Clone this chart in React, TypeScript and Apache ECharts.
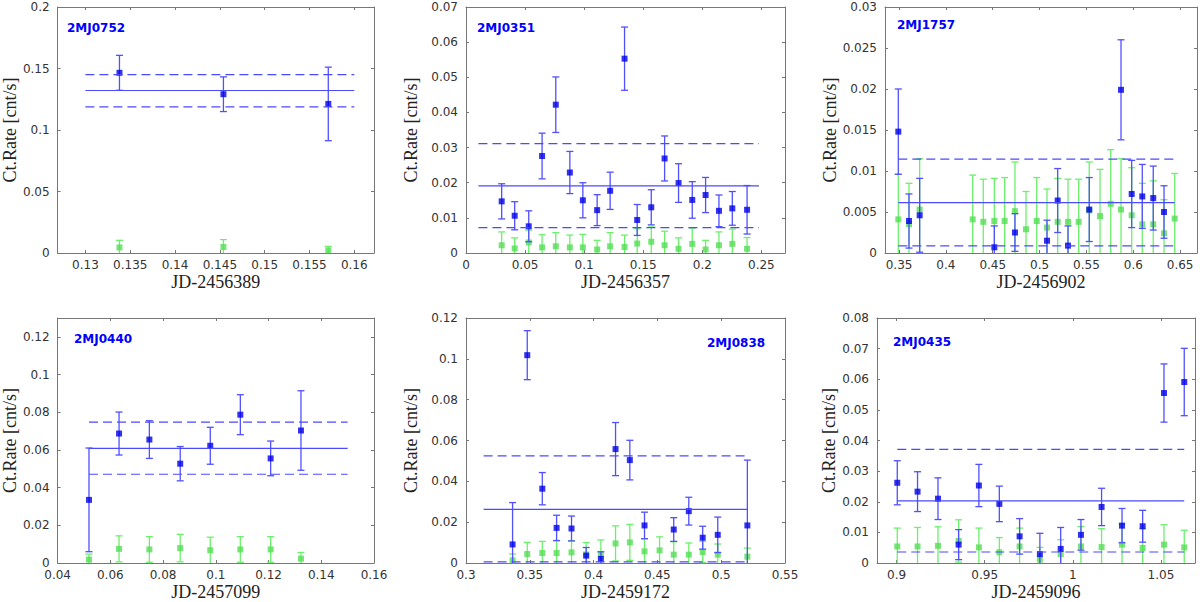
import { useEffect, useRef } from "react";
import * as echarts from "echarts";

// 2MJ0752 (JD-2456389)
const jd0752 = [0.1338, 0.1454, 0.1571];
const rate0752 = [0.1465, 0.1291, 0.1212];
const err0752 = [0.0142, 0.0141, 0.0299];
const bg0752 = [0.0045, 0.0049, 0.0022];
const bgErr0752 = [0.0058, 0.006, 0.0032];
const fit0752 = [0.1321, 0.1451, 0.1188];
const span0752 = [0.13, 0.16];

// 2MJ0351 (JD-2456357)
const jd0351 = [0.0302, 0.0412, 0.0531, 0.0644, 0.076, 0.0879, 0.0989, 0.111, 0.122, 0.1342, 0.1449, 0.1568, 0.1681, 0.1799, 0.1915, 0.2028, 0.2141, 0.2254, 0.2379];
const rate0351 = [0.0147, 0.0106, 0.0076, 0.0276, 0.0422, 0.0229, 0.015, 0.0122, 0.0177, 0.0553, 0.0094, 0.013, 0.0269, 0.0199, 0.0151, 0.0165, 0.012, 0.0127, 0.0123];
const err0351 = [0.005, 0.004, 0.0044, 0.0065, 0.0079, 0.006, 0.005, 0.0044, 0.0053, 0.009, 0.0044, 0.005, 0.0064, 0.0055, 0.0052, 0.005, 0.0045, 0.0048, 0.0069];
const bg0351 = [0.0022, 0.0013, 0.003, 0.0016, 0.0019, 0.0016, 0.0016, 0.001, 0.0019, 0.0017, 0.0027, 0.0032, 0.0022, 0.0012, 0.0026, 0.001, 0.0022, 0.0026, 0.0012];
const bgErr0351 = [0.0038, 0.003, 0.0035, 0.0036, 0.0039, 0.0035, 0.0037, 0.0026, 0.0039, 0.0034, 0.0042, 0.0042, 0.004, 0.0031, 0.0045, 0.0026, 0.0038, 0.0042, 0.0032];
const fit0351 = [0.0191, 0.0311, 0.0072];
const span0351 = [0.0105, 0.248];

// 2MJ1757 (JD-2456902)
const jd1757 = [0.3492, 0.3606, 0.372, 0.4517, 0.4737, 0.5079, 0.5193, 0.5303, 0.553, 0.5869, 0.5983, 0.6096, 0.6213, 0.6328];
const rate1757 = [0.0148, 0.0039, 0.0046, 0.0007, 0.0025, 0.0015, 0.0064, 0.0009, 0.0053, 0.0199, 0.0072, 0.0069, 0.0067, 0.005];
const err1757 = [0.0052, 0.0033, 0.0045, 0.0026, 0.0023, 0.0025, 0.0039, 0.0024, 0.0039, 0.0061, 0.0041, 0.0039, 0.0039, 0.0032];
const bgJd1757 = [0.3492, 0.3606, 0.372, 0.4286, 0.4399, 0.4517, 0.4627, 0.4737, 0.4855, 0.4969, 0.5079, 0.5193, 0.5303, 0.5417, 0.553, 0.5645, 0.5759, 0.5869, 0.5983, 0.6096, 0.6213, 0.6328, 0.6442];
const bg1757 = [0.0041, 0.0035, 0.0053, 0.0041, 0.0038, 0.0039, 0.0039, 0.0051, 0.0029, 0.0039, 0.0031, 0.0038, 0.0038, 0.0038, 0.0052, 0.0045, 0.006, 0.0053, 0.0046, 0.0035, 0.0035, 0.0024, 0.0042];
const bgErr1757 = [0.0055, 0.005, 0.0062, 0.0054, 0.0052, 0.0052, 0.0053, 0.006, 0.0046, 0.0053, 0.0047, 0.0053, 0.0052, 0.0052, 0.0059, 0.0057, 0.0066, 0.0062, 0.0058, 0.005, 0.0053, 0.0041, 0.0055];
const fit1757 = [0.00615, 0.01145, 0.00086];
const span1757 = [0.3492, 0.6442];

// 2MJ0440 (JD-2457099)
const jd0440 = [0.0519, 0.0633, 0.0748, 0.0865, 0.0979, 0.1093, 0.1208, 0.1323];
const rate0440 = [0.0335, 0.0687, 0.0655, 0.0527, 0.0622, 0.0787, 0.0555, 0.0703];
const err0440 = [0.0275, 0.0114, 0.01, 0.0091, 0.0098, 0.0106, 0.0092, 0.0211];
const bg0440 = [0.0018, 0.0075, 0.0072, 0.0079, 0.0068, 0.0072, 0.0072, 0.0023];
const bgErr0440 = [0.0029, 0.0069, 0.0068, 0.0073, 0.0069, 0.0068, 0.0068, 0.0033];
const fit0440 = [0.0608, 0.0748, 0.0471];
const span0440 = [0.0519, 0.15];

// 2MJ0838 (JD-2459172)
const jd0838 = [0.3365, 0.348, 0.3598, 0.371, 0.3827, 0.3942, 0.4057, 0.4172, 0.4284, 0.4399, 0.4628, 0.4746, 0.4855, 0.4973, 0.5205];
const rate0838 = [0.0091, 0.1018, 0.0364, 0.0172, 0.0169, 0.0036, 0.002, 0.0558, 0.0504, 0.0184, 0.0164, 0.0254, 0.0124, 0.0138, 0.0184];
const err0838 = [0.0205, 0.012, 0.0079, 0.0062, 0.0061, 0.004, 0.0035, 0.013, 0.0097, 0.0065, 0.0058, 0.0068, 0.0056, 0.0087, 0.032];
const bgJd0838 = [0.3365, 0.348, 0.3598, 0.371, 0.3827, 0.3942, 0.4057, 0.4172, 0.4284, 0.4399, 0.4517, 0.4628, 0.4746, 0.4855, 0.4973, 0.5205];
const bg0838 = [0.0013, 0.0044, 0.0049, 0.0049, 0.0052, 0.0042, 0.0043, 0.0096, 0.0101, 0.0057, 0.0062, 0.0041, 0.0041, 0.0054, 0.0041, 0.0031];
const bgErr0838 = [0.0031, 0.0057, 0.0057, 0.006, 0.0057, 0.0058, 0.007, 0.0086, 0.0088, 0.0062, 0.0066, 0.0063, 0.0057, 0.0052, 0.0052, 0.0042];
const fit0838 = [0.0263, 0.0525, 0.0006];
const span0838 = [0.3138, 0.5205];

// 2MJ0435 (JD-2459096)
const jd0435 = [0.9004, 0.9119, 0.9235, 0.9352, 0.9467, 0.9583, 0.9698, 0.9813, 0.9931, 1.0046, 1.0163, 1.0279, 1.0396, 1.0517, 1.0632];
const rate0435 = [0.0262, 0.0233, 0.021, 0.006, 0.0253, 0.0193, 0.0087, 0.0029, 0.0046, 0.0092, 0.0183, 0.0122, 0.012, 0.0555, 0.0591];
const err0435 = [0.0072, 0.0065, 0.0068, 0.0049, 0.0069, 0.0058, 0.0058, 0.0068, 0.007, 0.005, 0.0061, 0.0056, 0.0052, 0.0095, 0.011];
const bg0435 = [0.0054, 0.0054, 0.0056, 0.0072, 0.0051, 0.0035, 0.0054, 0.0011, 0.0029, 0.0054, 0.0052, 0.006, 0.0049, 0.006, 0.0051];
const bgErr0435 = [0.006, 0.0062, 0.0062, 0.0069, 0.0063, 0.0048, 0.006, 0.004, 0.0047, 0.0065, 0.006, 0.0067, 0.0063, 0.0065, 0.0056];
const fit0435 = [0.0203, 0.0371, 0.0036];
const span0435 = [0.9004, 1.0632];

// tick labels
const xTicks0752 = [0.13, 0.135, 0.14, 0.145, 0.15, 0.155, 0.16];
const yTicks0752 = [0, 0.05, 0.1, 0.15, 0.2];
const xTicks0351 = [0, 0.05, 0.1, 0.15, 0.2, 0.25];
const yTicks0351 = [0, 0.01, 0.02, 0.03, 0.04, 0.05, 0.06, 0.07];
const xTicks1757 = [0.35, 0.4, 0.45, 0.5, 0.55, 0.6, 0.65];
const yTicks1757 = [0, 0.005, 0.01, 0.015, 0.02, 0.025, 0.03];
const xTicks0440 = [0.04, 0.06, 0.08, 0.1, 0.12, 0.14, 0.16];
const yTicks0440 = [0, 0.02, 0.04, 0.06, 0.08, 0.1, 0.12];
const xTicks0838 = [0.3, 0.35, 0.4, 0.45, 0.5, 0.55];
const yTicks0838 = [0, 0.02, 0.04, 0.06, 0.08, 0.1, 0.12];
const xTicks0435 = [0.9, 0.95, 1, 1.05];
const yTicks0435 = [0, 0.01, 0.02, 0.03, 0.04, 0.05, 0.06, 0.07, 0.08];

const BLUE_BAR = "#5050ff";
const BLUE_MARK = "#0000e8";
const GREEN_BAR = "#6cf06c";
const GREEN_MARK = "#55dd55";
const FIT = "#4a4aff";
const FRAME = "#777777";
const TEXT = "#333333";

const panels = [
    { label: "2MJ0752", xName: "JD-2456389", jd: jd0752, rate: rate0752, err: err0752, bgJd: jd0752, bg: bg0752, bgErr: bgErr0752, fit: fit0752, span: span0752, xRange: [0.1269, 0.1622], yMax: 0.2, xTicks: xTicks0752, yTicks: yTicks0752, box: [55, 7, 319, 246], yGap: 34, tag: [67, 28] },
    { label: "2MJ0351", xName: "JD-2456357", jd: jd0351, rate: rate0351, err: err0351, bgJd: jd0351, bg: bg0351, bgErr: bgErr0351, fit: fit0351, span: span0351, xRange: [0, 0.27], yMax: 0.07, xTicks: xTicks0351, yTicks: yTicks0351, box: [466, 7, 319, 246], yGap: 46, tag: [477, 28] },
    { label: "2MJ1757", xName: "JD-2456902", jd: jd1757, rate: rate1757, err: err1757, bgJd: bgJd1757, bg: bg1757, bgErr: bgErr1757, fit: fit1757, span: span1757, xRange: [0.335, 0.668], yMax: 0.03, xTicks: xTicks1757, yTicks: yTicks1757, box: [885, 7, 312, 246], yGap: 43, tag: [897, 25] },
    { label: "2MJ0440", xName: "JD-2457099", jd: jd0440, rate: rate0440, err: err0440, bgJd: jd0440, bg: bg0440, bgErr: bgErr0440, fit: fit0440, span: span0440, xRange: [0.04, 0.16], yMax: 0.13, xTicks: xTicks0440, yTicks: yTicks0440, box: [54, 318, 320, 247], yGap: 34, tag: [74, 339] },
    { label: "2MJ0838", xName: "JD-2459172", jd: jd0838, rate: rate0838, err: err0838, bgJd: bgJd0838, bg: bg0838, bgErr: bgErr0838, fit: fit0838, span: span0838, xRange: [0.3, 0.55], yMax: 0.12, xTicks: xTicks0838, yTicks: yTicks0838, box: [466, 318, 319, 247], yGap: 46, tag: [707, 343] },
    { label: "2MJ0435", xName: "JD-2459096", jd: jd0435, rate: rate0435, err: err0435, bgJd: jd0435, bg: bg0435, bgErr: bgErr0435, fit: fit0435, span: span0435, xRange: [0.8889, 1.0693], yMax: 0.08, xTicks: xTicks0435, yTicks: yTicks0435, box: [877, 318, 318, 247], yGap: 35, tag: [893, 342] },
];

// vertical error bar with caps, clipped to the plot box
function errorBar(color: string) {
    return (params: any, api: any) => {
        const cs = params.coordSys;
        const x = api.value(0);
        const hi = api.coord([x, api.value(3)]);
        const lo = api.coord([x, api.value(2)]);
        const top = Math.max(cs.y, hi[1]);
        const bot = Math.min(cs.y + cs.height, lo[1]);
        const px = hi[0];
        const style = { stroke: color, lineWidth: 1.3 };
        const children: any[] = [{ type: "line", shape: { x1: px, y1: top, x2: px, y2: bot }, style }];
        if (hi[1] >= cs.y) children.push({ type: "line", shape: { x1: px - 3.5, y1: hi[1], x2: px + 3.5, y2: hi[1] }, style });
        if (lo[1] <= cs.y + cs.height) children.push({ type: "line", shape: { x1: px - 3.5, y1: lo[1], x2: px + 3.5, y2: lo[1] }, style });
        return { type: "group", children };
    };
}

export default function App() {
    const chartRef = useRef<HTMLDivElement | null>(null);

    useEffect(() => {
        if (!chartRef.current) return;
        const chart = echarts.init(chartRef.current, undefined, { renderer: "svg" });

        const grid: any[] = [];
        const xAxis: any[] = [];
        const yAxis: any[] = [];
        const series: any[] = [];
        const graphic: any[] = [];

        panels.forEach((p, i) => {
            const [left, top, width, height] = p.box;
            grid.push({ left, top, width, height });
            const line = { show: true, lineStyle: { color: FRAME, width: 1 } };
            xAxis.push({
                type: "value", gridIndex: i, position: "bottom", min: p.xRange[0], max: p.xRange[1],
                name: p.xName, nameLocation: "middle", nameGap: 20,
                nameTextStyle: { fontFamily: "Liberation Serif", fontSize: 18, color: "#222" },
                axisLine: { ...line, onZero: false },
                axisTick: { inside: true, length: 3, lineStyle: { color: FRAME }, customValues: p.xTicks },
                axisLabel: { customValues: p.xTicks, margin: 6, fontFamily: "DejaVu Sans", fontSize: 12, color: TEXT },
                splitLine: { show: false },
            });
            xAxis.push({
                type: "value", gridIndex: i, position: "top", min: p.xRange[0], max: p.xRange[1],
                axisLine: { ...line, onZero: false },
                axisTick: { inside: true, length: 3, lineStyle: { color: FRAME }, customValues: p.xTicks },
                axisLabel: { show: false },
                splitLine: { show: false },
            });
            yAxis.push({
                type: "value", gridIndex: i, position: "left", min: 0, max: p.yMax,
                name: "Ct.Rate [cnt/s]", nameLocation: "middle", nameGap: p.yGap,
                nameTextStyle: { fontFamily: "Liberation Serif", fontSize: 18, color: "#222" },
                axisLine: { ...line, onZero: false },
                axisTick: { inside: true, length: 3, lineStyle: { color: FRAME }, customValues: p.yTicks },
                axisLabel: { customValues: p.yTicks, margin: 8, fontFamily: "DejaVu Sans", fontSize: 12, color: TEXT },
                splitLine: { show: false },
            });
            yAxis.push({
                type: "value", gridIndex: i, position: "right", min: 0, max: p.yMax,
                axisLine: { ...line, onZero: false },
                axisTick: { inside: true, length: 3, lineStyle: { color: FRAME }, customValues: p.yTicks },
                axisLabel: { show: false },
                splitLine: { show: false },
            });

            const xi = 2 * i;
            const bgRows = p.bgJd.map((x, k) => [x, p.bg[k], p.bg[k] - p.bgErr[k], p.bg[k] + p.bgErr[k]]);
            const rows = p.jd.map((x, k) => [x, p.rate[k], p.rate[k] - p.err[k], p.rate[k] + p.err[k]]);

            series.push({
                type: "custom", xAxisIndex: xi, yAxisIndex: xi, z: 2, silent: true,
                renderItem: errorBar(GREEN_BAR), encode: { x: 0, y: [1, 2, 3] }, data: bgRows,
            });
            series.push({
                type: "scatter", xAxisIndex: xi, yAxisIndex: xi, z: 3, silent: true,
                symbol: "rect", symbolSize: 6, itemStyle: { color: GREEN_MARK },
                data: bgRows.map((r) => [r[0], r[1]]),
            });
            series.push({
                type: "custom", xAxisIndex: xi, yAxisIndex: xi, z: 4, silent: true,
                renderItem: errorBar(BLUE_BAR), encode: { x: 0, y: [1, 2, 3] }, data: rows,
            });
            series.push({
                type: "scatter", xAxisIndex: xi, yAxisIndex: xi, z: 5, silent: true,
                symbol: "rect", symbolSize: 6, itemStyle: { color: BLUE_MARK },
                data: rows.map((r) => [r[0], r[1]]),
            });
            p.fit.forEach((lvl, k) => {
                series.push({
                    type: "line", xAxisIndex: xi, yAxisIndex: xi, z: 6, silent: true,
                    symbol: "none",
                    lineStyle: { color: FIT, width: 1.2, type: k === 0 ? "solid" : [9, 5] },
                    data: [[p.span[0], lvl], [p.span[1], lvl]],
                });
            });

            graphic.push({
                type: "text", x: p.tag[0], y: p.tag[1], silent: true,
                style: { text: p.label, fill: "#0000ff", font: 'bold 12px "DejaVu Sans"', verticalAlign: "middle", align: "left" },
            });
        });

        chart.setOption({
            animation: false,
            backgroundColor: "#ffffff",
            grid, xAxis, yAxis, series, graphic,
        });

        return () => chart.dispose();
    }, []);

    return (
        <div
            ref={chartRef}
            style={{ position: "fixed", left: 0, top: 0, width: 1200, height: 602, background: "#fff" }}
        />
    );
}
